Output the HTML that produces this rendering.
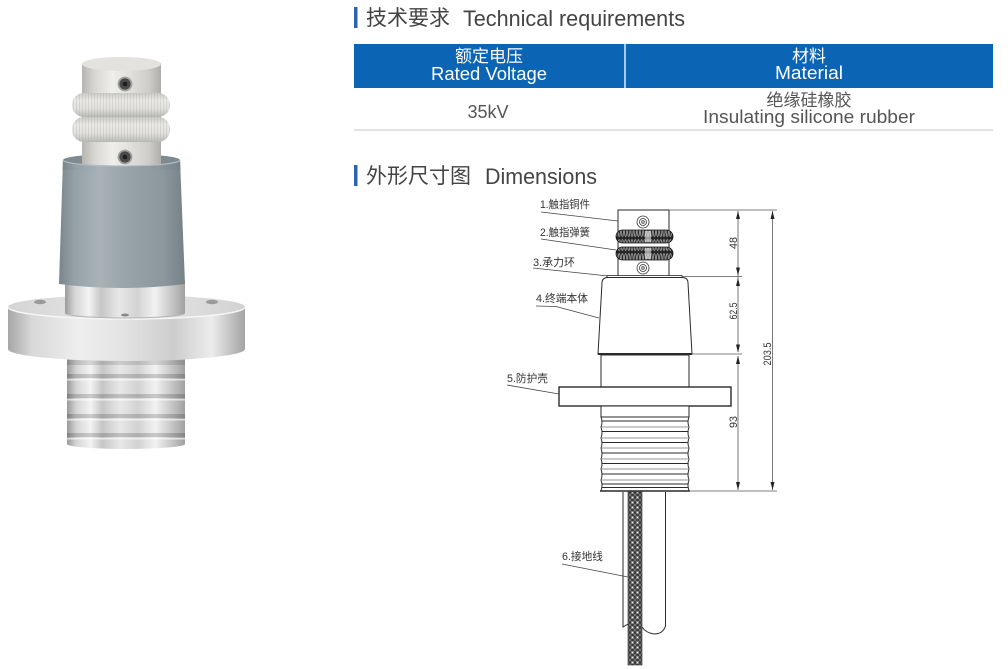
<!DOCTYPE html>
<html>
<head>
<meta charset="utf-8">
<style>
html,body{margin:0;padding:0;background:#fff;}
body{width:1008px;height:669px;overflow:hidden;}
svg{display:block;}
text{font-family:"Liberation Sans","Noto Sans CJK SC",sans-serif;}
</style>
</head>
<body>
<svg width="1008" height="669" viewBox="0 0 1008 669" xmlns="http://www.w3.org/2000/svg">
<defs>
  <linearGradient id="cyl" x1="0" x2="1" y1="0" y2="0">
    <stop offset="0" stop-color="#b5b4b0"/>
    <stop offset="0.15" stop-color="#d6d5d1"/>
    <stop offset="0.38" stop-color="#efeeea"/>
    <stop offset="0.6" stop-color="#e1e0dc"/>
    <stop offset="0.85" stop-color="#cdccc8"/>
    <stop offset="1" stop-color="#aeada9"/>
  </linearGradient>
  <linearGradient id="spring" x1="0" x2="0" y1="0" y2="1">
    <stop offset="0" stop-color="#c9c9c6"/>
    <stop offset="0.3" stop-color="#ebeae7"/>
    <stop offset="0.65" stop-color="#e2e1de"/>
    <stop offset="1" stop-color="#b8b8b4"/>
  </linearGradient>
  <pattern id="coil" width="3" height="24" patternUnits="userSpaceOnUse">
    <line x1="1.5" y1="0" x2="1.5" y2="24" stroke="#b0b0ac" stroke-width="0.6" opacity="0.6"/>
  </pattern>
  <linearGradient id="cone" x1="0" x2="1" y1="0" y2="0">
    <stop offset="0" stop-color="#7a858c"/>
    <stop offset="0.12" stop-color="#95a0a7"/>
    <stop offset="0.32" stop-color="#a8b2b8"/>
    <stop offset="0.55" stop-color="#97a2a9"/>
    <stop offset="0.82" stop-color="#8c979e"/>
    <stop offset="1" stop-color="#768188"/>
  </linearGradient>
  <linearGradient id="sleeve" x1="0" x2="1" y1="0" y2="0">
    <stop offset="0" stop-color="#9a9a9a"/>
    <stop offset="0.08" stop-color="#d5d5d5"/>
    <stop offset="0.2" stop-color="#f3f3f3"/>
    <stop offset="0.3" stop-color="#c6c6c6"/>
    <stop offset="0.45" stop-color="#e8e8e8"/>
    <stop offset="0.6" stop-color="#d2d2d2"/>
    <stop offset="0.75" stop-color="#f2f2f2"/>
    <stop offset="0.9" stop-color="#c2c2c2"/>
    <stop offset="1" stop-color="#a0a0a0"/>
  </linearGradient>
  <linearGradient id="flangeSide" x1="0" x2="1" y1="0" y2="0">
    <stop offset="0" stop-color="#a6a6a6"/>
    <stop offset="0.1" stop-color="#d8d8d8"/>
    <stop offset="0.3" stop-color="#eeeeee"/>
    <stop offset="0.5" stop-color="#e2e2e2"/>
    <stop offset="0.7" stop-color="#cdcdcd"/>
    <stop offset="0.86" stop-color="#ececec"/>
    <stop offset="1" stop-color="#a3a3a3"/>
  </linearGradient>
  <linearGradient id="flangeTop" x1="0" x2="1" y1="0" y2="0">
    <stop offset="0" stop-color="#d4d4d4"/>
    <stop offset="0.5" stop-color="#e9e9e9"/>
    <stop offset="1" stop-color="#d2d2d2"/>
  </linearGradient>
  <pattern id="braid" width="5" height="5" patternUnits="userSpaceOnUse">
    <rect width="5" height="5" fill="#3a3a3a"/>
    <path d="M0 0 L5 5 M5 0 L0 5" stroke="#888" stroke-width="0.7"/>
    <circle cx="2.5" cy="2.5" r="1" fill="#f2f2f2"/>
  </pattern>
  <pattern id="dcoil" width="3.2" height="14" patternUnits="userSpaceOnUse">
    <rect width="3.2" height="14" fill="#262626"/>
    <ellipse cx="1.6" cy="7" rx="1.1" ry="5.5" fill="none" stroke="#d0d0d0" stroke-width="0.6"/>
  </pattern>
</defs>

<!-- ================= PHOTO (left) ================= -->
<path d="M67 352 L185 352 L185 444 A59 5 0 0 1 67 444 Z" fill="url(#sleeve)"/>
<g>
  <rect x="67" y="360" width="118" height="5" fill="#000" opacity="0.12"/>
  <rect x="67" y="374" width="118" height="4" fill="#000" opacity="0.17"/>
  <rect x="67" y="379" width="118" height="1.5" fill="#fff" opacity="0.6"/>
  <rect x="67" y="394" width="118" height="4" fill="#000" opacity="0.17"/>
  <rect x="67" y="399" width="118" height="1.5" fill="#fff" opacity="0.6"/>
  <rect x="67" y="414" width="118" height="4" fill="#000" opacity="0.17"/>
  <rect x="67" y="419" width="118" height="1.5" fill="#fff" opacity="0.6"/>
  <rect x="67" y="433" width="118" height="4" fill="#000" opacity="0.17"/>
  <rect x="67" y="438" width="118" height="1.5" fill="#fff" opacity="0.6"/>
</g>
<path d="M8 307 L8 349 A118.5 12 0 0 0 245 349 L245 307 Z" fill="url(#flangeSide)"/>
<ellipse cx="126.5" cy="307" rx="118.5" ry="12" fill="url(#flangeTop)"/>
<path d="M8 307 A118.5 12 0 0 0 245 307" fill="none" stroke="#f6f6f6" stroke-width="1.5"/>
<ellipse cx="40" cy="302" rx="6" ry="2.2" fill="#9a9a9a"/>
<ellipse cx="212" cy="302" rx="6" ry="2.2" fill="#9a9a9a"/>
<path d="M65 280 L185 280 L185 313 A60 5 0 0 1 65 313 Z" fill="url(#sleeve)"/>
<path d="M65 313 A60 5 0 0 0 185 313" fill="none" stroke="#b5b5b5" stroke-width="1"/>
<ellipse cx="125" cy="315" rx="4" ry="1.5" fill="#8a8a8a"/>
<path d="M63 160 L180 160 L185 284 Q122 292 59 284 Z" fill="url(#cone)"/>
<ellipse cx="121.5" cy="160" rx="58.5" ry="6" fill="#7f8a90"/>
<rect x="82" y="63" width="79" height="105" fill="url(#cyl)"/>
<ellipse cx="121.5" cy="64" rx="39.5" ry="7" fill="#e3e2de"/>
<path d="M63 160 A58.5 6 0 0 0 180 160 L180.4 170 L62.6 170 Z" fill="url(#cone)"/>
<path d="M63 160 A58.5 6 0 0 0 180 160" fill="none" stroke="#b2bcc2" stroke-width="1.2"/>
<rect x="72" y="93" width="98" height="24" rx="12" ry="12" fill="url(#spring)"/>
<rect x="72" y="93" width="98" height="24" rx="12" ry="12" fill="url(#coil)"/>
<rect x="72" y="117" width="98" height="25" rx="12" ry="12" fill="url(#spring)"/>
<rect x="72" y="117" width="98" height="25" rx="12" ry="12" fill="url(#coil)"/>
<circle cx="125" cy="84" r="6.5" fill="#4a4a4a" stroke="#a0a0a0" stroke-width="1.8"/>
<circle cx="125" cy="84" r="2.3" fill="#1e1e1e"/>
<circle cx="125" cy="157" r="6.5" fill="#4a4a4a" stroke="#a0a0a0" stroke-width="1.8"/>
<circle cx="125" cy="157" r="2.3" fill="#1e1e1e"/>

<!-- ================= TITLES & TABLE ================= -->
<rect x="354" y="7" width="3.5" height="21" fill="#2f62ae"/>
<text x="366" y="25" font-size="21" fill="#444" textLength="84" lengthAdjust="spacingAndGlyphs">技术要求</text>
<text x="463" y="26" font-size="22" fill="#444" textLength="222" lengthAdjust="spacingAndGlyphs">Technical requirements</text>

<rect x="354" y="44" width="639" height="44" fill="#0b64b4"/>
<rect x="624" y="44" width="2" height="44" fill="#a9c9e8"/>
<text x="489" y="62" font-size="17" fill="#fff" text-anchor="middle">额定电压</text>
<text x="489" y="80" font-size="18" fill="#fff" text-anchor="middle" textLength="116" lengthAdjust="spacingAndGlyphs">Rated Voltage</text>
<text x="809" y="62" font-size="17" fill="#fff" text-anchor="middle">材料</text>
<text x="809" y="79" font-size="18" fill="#fff" text-anchor="middle" textLength="68" lengthAdjust="spacingAndGlyphs">Material</text>

<text x="488" y="118" font-size="18" fill="#555" text-anchor="middle">35kV</text>
<text x="809" y="106" font-size="17" fill="#555" text-anchor="middle">绝缘硅橡胶</text>
<text x="809" y="123" font-size="18" fill="#555" text-anchor="middle" textLength="212" lengthAdjust="spacingAndGlyphs">Insulating silicone rubber</text>
<rect x="354" y="129" width="639" height="2" fill="#e2e2e2"/>

<rect x="354" y="165" width="3.5" height="21" fill="#2f62ae"/>
<text x="366" y="183" font-size="21" fill="#444" textLength="105" lengthAdjust="spacingAndGlyphs">外形尺寸图</text>
<text x="485" y="184" font-size="22" fill="#444" textLength="112" lengthAdjust="spacingAndGlyphs">Dimensions</text>

<!-- ================= DRAWING ================= -->
<g stroke="#2a2a2a" fill="none" stroke-width="1">
  <rect x="618" y="210" width="51" height="66" fill="#fff"/>
  <rect x="607" y="275.5" width="75" height="2" fill="#fff" stroke-width="0.8"/>
  <path d="M598 354 L602 283 Q602 277.5 608 277.5 L682 277.5 Q688 277.5 688 283 L692 354 Z" fill="#fff"/>
  <line x1="598" y1="354" x2="692" y2="354" stroke-width="2"/>
  <rect x="601" y="355" width="88" height="32" fill="#fff"/>
  <rect x="559" y="387" width="172" height="19" fill="#fff" stroke-width="1.4"/>
  <rect x="601" y="406" width="88" height="11" fill="#fff"/>
  <path d="M601 417 Q603 422 601 427 Q603 433 601 438 Q603 443 601 448 Q603 454 601 459 Q603 464 601 469 Q603 475 601 480 Q603 485 601 491 L689 491 Q687 485 689 480 Q687 475 689 469 Q687 464 689 459 Q687 454 689 448 Q687 443 689 438 Q687 433 689 427 Q687 422 689 417 Z" fill="#fff"/>
  <g stroke-width="1.1">
    <line x1="602" y1="421" x2="688" y2="421"/>
    <line x1="602" y1="427" x2="688" y2="427" stroke-width="0.6"/>
    <line x1="602" y1="431.5" x2="688" y2="431.5"/>
    <line x1="602" y1="438" x2="688" y2="438" stroke-width="0.6"/>
    <line x1="602" y1="442.5" x2="688" y2="442.5"/>
    <line x1="602" y1="448" x2="688" y2="448" stroke-width="0.6"/>
    <line x1="602" y1="453" x2="688" y2="453"/>
    <line x1="602" y1="459" x2="688" y2="459" stroke-width="0.6"/>
    <line x1="602" y1="463.5" x2="688" y2="463.5"/>
    <line x1="602" y1="469" x2="688" y2="469" stroke-width="0.6"/>
    <line x1="602" y1="474" x2="688" y2="474"/>
    <line x1="602" y1="480" x2="688" y2="480" stroke-width="0.6"/>
    <line x1="602" y1="484" x2="688" y2="484"/>
    <line x1="602" y1="487.5" x2="688" y2="487.5"/>
  </g>
  <line x1="600" y1="491" x2="690" y2="491" stroke-width="1.6"/>
  <path d="M623 492 L623 627 L628 624" />
  <path d="M665.5 492 L665.5 626 Q663 634 654 634 Q646 633 642 627"/>
</g>
<rect x="628" y="492" width="14" height="173" fill="url(#braid)" stroke="#2a2a2a" stroke-width="0.6"/>

<rect x="616" y="230" width="57" height="13" rx="6.5" ry="6.5" fill="url(#dcoil)" stroke="#111" stroke-width="0.8"/>
<rect x="616" y="247" width="57" height="13" rx="6.5" ry="6.5" fill="url(#dcoil)" stroke="#111" stroke-width="0.8"/>
<rect x="645" y="231" width="6" height="11" fill="#fff" opacity="0.55"/>
<rect x="645" y="248" width="6" height="11" fill="#fff" opacity="0.55"/>
<g fill="none" stroke="#333" stroke-width="0.8">
  <circle cx="643" cy="222" r="6"/>
  <circle cx="643" cy="222" r="3.5"/>
  <circle cx="643" cy="222" r="1.3"/>
  <circle cx="643" cy="268" r="6"/>
  <circle cx="643" cy="268" r="3.5"/>
  <circle cx="643" cy="268" r="1.3"/>
</g>

<g stroke="#555" stroke-width="0.8" fill="none">
  <line x1="669" y1="210" x2="777" y2="210"/>
  <line x1="682" y1="276.5" x2="742" y2="276.5"/>
  <line x1="692" y1="354" x2="742" y2="354"/>
  <line x1="689" y1="491" x2="777" y2="491"/>
  <line x1="738" y1="211" x2="738" y2="352"/>
  <line x1="738" y1="356" x2="738" y2="490"/>
  <line x1="772.5" y1="211" x2="772.5" y2="490"/>
</g>
<g fill="#222">
  <polygon points="738,211 736,219 740,219"/>
  <polygon points="738,275.5 736,267.5 740,267.5"/>
  <polygon points="738,278 736,286 740,286"/>
  <polygon points="738,352.5 736,344.5 740,344.5"/>
  <polygon points="738,356 736,364 740,364"/>
  <polygon points="738,490 736,482 740,482"/>
  <polygon points="772.5,211 770.5,219 774.5,219"/>
  <polygon points="772.5,490 770.5,482 774.5,482"/>
</g>
<g font-size="11" fill="#333" text-anchor="middle">
  <text transform="translate(737,243) rotate(-90)" textLength="12" lengthAdjust="spacingAndGlyphs">48</text>
  <text transform="translate(737,311) rotate(-90)" textLength="17" lengthAdjust="spacingAndGlyphs">62.5</text>
  <text transform="translate(737,422) rotate(-90)" textLength="12" lengthAdjust="spacingAndGlyphs">93</text>
  <text transform="translate(771,354) rotate(-90)" textLength="23" lengthAdjust="spacingAndGlyphs">203.5</text>
</g>

<g font-size="11" fill="#333">
  <text x="540" y="208" textLength="50" lengthAdjust="spacingAndGlyphs">1.触指铜件</text>
  <text x="540" y="236" textLength="50" lengthAdjust="spacingAndGlyphs">2.触指弹簧</text>
  <text x="533" y="266" textLength="42" lengthAdjust="spacingAndGlyphs">3.承力环</text>
  <text x="536" y="302" textLength="52" lengthAdjust="spacingAndGlyphs">4.终端本体</text>
  <text x="507" y="382" textLength="41" lengthAdjust="spacingAndGlyphs">5.防护壳</text>
  <text x="562" y="560" textLength="41" lengthAdjust="spacingAndGlyphs">6.接地线</text>
</g>
<g stroke="#444" stroke-width="0.8" fill="none">
  <line x1="541" y1="212" x2="618" y2="221"/>
  <line x1="541" y1="239" x2="616" y2="250"/>
  <line x1="533" y1="268" x2="608" y2="276"/>
  <polyline points="536,306 556,306.5 599,318"/>
  <line x1="507" y1="385" x2="559" y2="394"/>
  <line x1="562" y1="564" x2="628" y2="577"/>
</g>
</svg>
</body>
</html>
